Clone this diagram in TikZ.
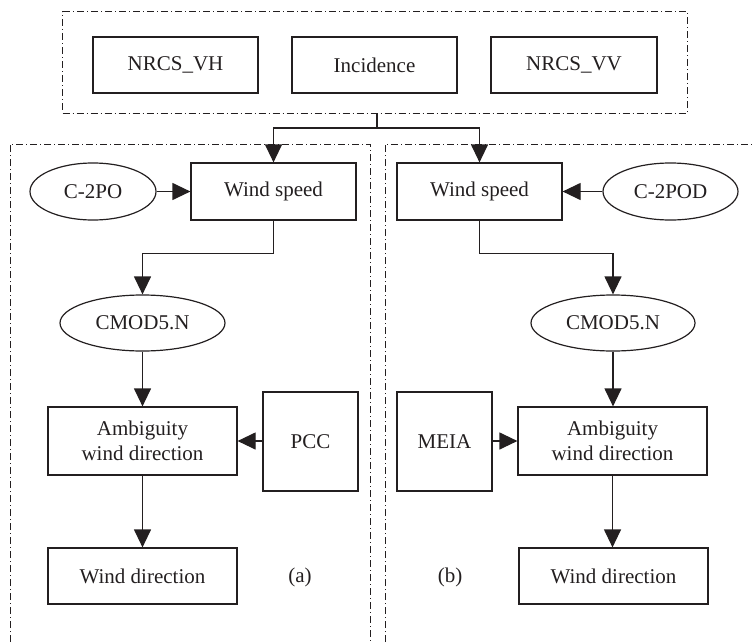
\documentclass[tikz,border=0pt]{standalone}
\usepackage{fontspec}
\setmainfont{Liberation Serif}
\usetikzlibrary{arrows.meta,shapes.geometric}
\definecolor{ink}{HTML}{231F20}
\begin{document}
\begin{tikzpicture}[x=1pt,y=-1pt,
  box/.style={draw=ink,line width=1.2pt,rectangle,inner sep=0pt,text=ink,
    font=\fontsize{21}{25}\selectfont,align=center},
  oval/.style={draw=ink,line width=1.2pt,ellipse,inner sep=0pt,text=ink,
    font=\fontsize{21}{25}\selectfont},
  lbl/.style={inner sep=0pt,text=ink,font=\fontsize{21}{25}\selectfont},
  frame/.style={draw=ink,line width=1pt,dash pattern=on 7pt off 3pt on 1pt off 3pt},
  arr/.style={draw=ink,line width=1.2pt,-{Triangle[length=18pt,width=17pt]}},
  ]
\useasboundingbox (0,0) rectangle (754,642);
% input group
\node[frame,rectangle,minimum width=625pt,minimum height=101pt,inner sep=0pt] (inputs) at (375,62.5) {};
\node[box,minimum width=165pt,minimum height=56pt] (vh) at (175.5,65) {NRCS\_VH};
\node[box,minimum width=165pt,minimum height=56pt] (inc) at (374.5,65) {Incidence};
\node[box,minimum width=166pt,minimum height=56pt] (vv) at (574,65) {NRCS\_VV};
% panels
\draw[frame] (10,642) -- (10,144) -- (370,144) -- (370,642);
\draw[frame] (385,642) -- (385,144) -- (754,144);
% left panel
\node[box,minimum width=165pt,minimum height=57pt] (wsL) at (273.5,191.5) {Wind speed};
\node[oval,minimum width=126pt,minimum height=57pt] (c2po) at (93,191.5) {C-2PO};
\node[oval,minimum width=165pt,minimum height=56pt] (cmodL) at (142.5,323) {CMOD5.N};
\node[box,minimum width=189pt,minimum height=68pt] (ambL) at (142.5,441) {Ambiguity\\wind direction};
\node[box,minimum width=95pt,minimum height=99pt] (pcc) at (310.5,441.5) {PCC};
\node[box,minimum width=189pt,minimum height=56pt] (wdL) at (142.5,576) {Wind direction};
\node[lbl] (la) at (300,577) {(a)};
% right panel
\node[box,minimum width=165pt,minimum height=57pt] (wsR) at (479.5,191.5) {Wind speed};
\node[oval,minimum width=135pt,minimum height=57pt] (c2pod) at (670.5,191.5) {C-2POD};
\node[oval,minimum width=164pt,minimum height=56pt] (cmodR) at (613,323) {CMOD5.N};
\node[box,minimum width=95pt,minimum height=99pt] (meia) at (444.5,441.5) {MEIA};
\node[box,minimum width=189pt,minimum height=68pt] (ambR) at (612.5,441) {Ambiguity\\wind direction};
\node[box,minimum width=189pt,minimum height=56pt] (wdR) at (613.5,576) {Wind direction};
\node[lbl] (lb) at (450,577) {(b)};
% connectors
\coordinate (split) at (377,113);
\draw[arr] (split) -- ++(0,15) -| (wsL.north);
\draw[arr] (split) -- ++(0,15) -| (wsR.north);
\draw[arr] (c2po.east) -- (wsL.west);
\draw[arr] (wsL.south) -- ++(0,33) -| (cmodL.north);
\draw[arr] (cmodL.south) -- (ambL.north);
\draw[arr] (pcc.west |- ambL.east) -- (ambL.east);
\draw[arr] (ambL.south) -- (wdL.north);
\draw[arr] (c2pod.west) -- (wsR.east);
\draw[arr] (wsR.south) -- ++(0,33) -| (cmodR.north);
\draw[arr] (cmodR.south) -- (cmodR.south |- ambR.north);
\draw[arr] (meia.east |- ambR.west) -- (ambR.west);
\draw[arr] (ambR.south) -- (ambR.south |- wdR.north);
\end{tikzpicture}
\end{document}
